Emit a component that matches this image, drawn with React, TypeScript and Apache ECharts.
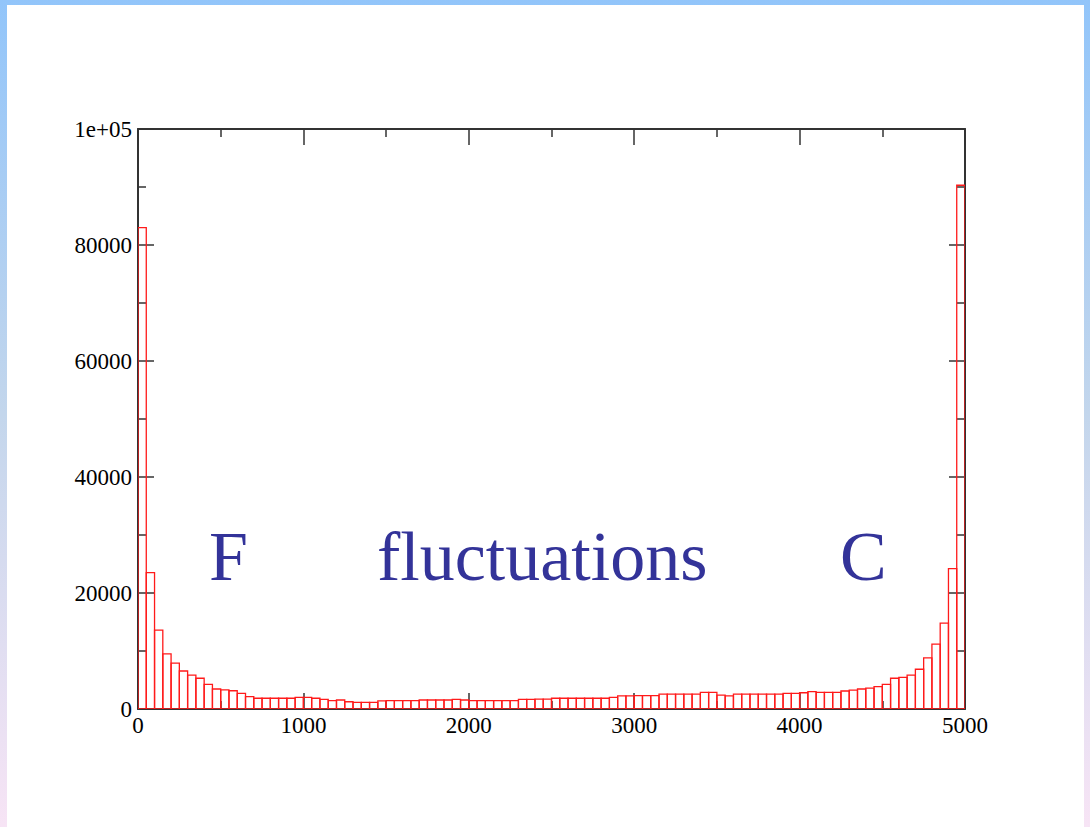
import React, { useEffect, useRef } from "react";
import * as echarts from "echarts";

// Histogram: 100 bins of width 50 over [0, 5000)
const BIN_WIDTH = 50;
const binStarts: number[] = Array.from({ length: 100 }, (_, i) => i * BIN_WIDTH);
const counts: number[] = [
  83000, 23500, 13600, 9500, 7900, 6550, 5850, 5300, 4250, 3450,
  3300, 3150, 2700, 2150, 1850, 1850, 1850, 1850, 1850, 2000,
  2000, 1850, 1650, 1450, 1550, 1250, 1150, 1150, 1150, 1400,
  1450, 1450, 1450, 1450, 1550, 1550, 1550, 1550, 1650, 1550,
  1450, 1450, 1450, 1450, 1450, 1450, 1650, 1650, 1700, 1700,
  1850, 1850, 1850, 1850, 1850, 1850, 1850, 2000, 2250, 2250,
  2300, 2300, 2300, 2550, 2550, 2550, 2550, 2550, 2850, 2850,
  2400, 2250, 2550, 2550, 2550, 2550, 2550, 2550, 2700, 2700,
  2800, 3000, 2850, 2850, 2850, 3100, 3250, 3450, 3600, 3850,
  4250, 5300, 5450, 5850, 6850, 8800, 11200, 14800, 24200, 90300,
];

const xTicks = { min: 0, max: 5000, interval: 1000 };
const yTicks = { min: 0, max: 100000, interval: 20000 };

const overlayWords: { text: string; x: number }[] = [
  { text: "F", x: 209 },
  { text: "fluctuations", x: 377 },
  { text: "C", x: 840 },
];

const labelFont = "'Liberation Serif', 'Times New Roman', serif";

export default function App() {
  const ref = useRef<HTMLDivElement | null>(null);

  useEffect(() => {
    if (!ref.current) return;
    const chart = echarts.init(ref.current, undefined, { renderer: "svg" });

    const frameLine = { show: true, onZero: false, lineStyle: { color: "#333", width: 2 } };
    const tickStyle = { show: true, inside: true, length: 16, lineStyle: { color: "#333", width: 1.5 } };
    const minorStyle = { show: true, splitNumber: 2, length: 8, lineStyle: { color: "#333", width: 1.5 } };
    const axisText = { fontFamily: labelFont, fontSize: 23, color: "#000" };

    const xBase = {
      type: "value" as const,
      min: xTicks.min,
      max: xTicks.max,
      interval: xTicks.interval,
      axisLine: frameLine,
      axisTick: tickStyle,
      minorTick: minorStyle,
      splitLine: { show: false },
    };
    const yBase = {
      type: "value" as const,
      min: yTicks.min,
      max: yTicks.max,
      interval: yTicks.interval,
      axisLine: frameLine,
      axisTick: tickStyle,
      minorTick: minorStyle,
      splitLine: { show: false },
    };

    const data = binStarts.map((s, i) => [s, counts[i]]);

    chart.setOption({
      animation: false,
      backgroundColor: "transparent",
      grid: { left: 138, right: 125, top: 129, bottom: 118 },
      xAxis: [
        {
          ...xBase,
          position: "bottom",
          axisLabel: { ...axisText, margin: 5, formatter: (v: number) => String(v) },
        },
        { ...xBase, position: "top", axisLabel: { show: false } },
      ],
      yAxis: [
        {
          ...yBase,
          position: "left",
          axisLabel: {
            ...axisText,
            margin: 6,
            formatter: (v: number) => (v === 100000 ? "1e+05" : String(v)),
          },
        },
        { ...yBase, position: "right", axisLabel: { show: false } },
      ],
      series: [
        {
          type: "custom",
          xAxisIndex: 0,
          yAxisIndex: 0,
          data,
          clip: true,
          renderItem: (params: any, api: any) => {
            const x0 = api.value(0);
            const v = api.value(1);
            const p0 = api.coord([x0, 0]);
            const p1 = api.coord([x0 + BIN_WIDTH, v]);
            return {
              type: "rect",
              shape: { x: p0[0], y: p1[1], width: p1[0] - p0[0], height: p0[1] - p1[1] },
              style: { fill: "none", stroke: "#ff1a1a", lineWidth: 1.3 },
            };
          },
        },
      ],
      graphic: overlayWords.map((w) => ({
        type: "text",
        left: w.x,
        top: 521,
        style: {
          text: w.text,
          font: `70px ${labelFont}`,
          fill: "#333399",
        },
      })),
    });

    return () => chart.dispose();
  }, []);

  return (
    <div
      style={{
        position: "fixed",
        left: 0,
        top: 0,
        width: 1090,
        height: 827,
        background: "linear-gradient(to bottom, #92c5fa 0%, #c3d6ec 50%, #f7e4f5 100%)",
      }}
    >
      <div
        style={{
          position: "absolute",
          left: 7,
          top: 5,
          width: 1077,
          height: 822,
          background: "#ffffff",
        }}
      />
      <div ref={ref} style={{ position: "absolute", left: 0, top: 0, width: 1090, height: 827 }} />
    </div>
  );
}
